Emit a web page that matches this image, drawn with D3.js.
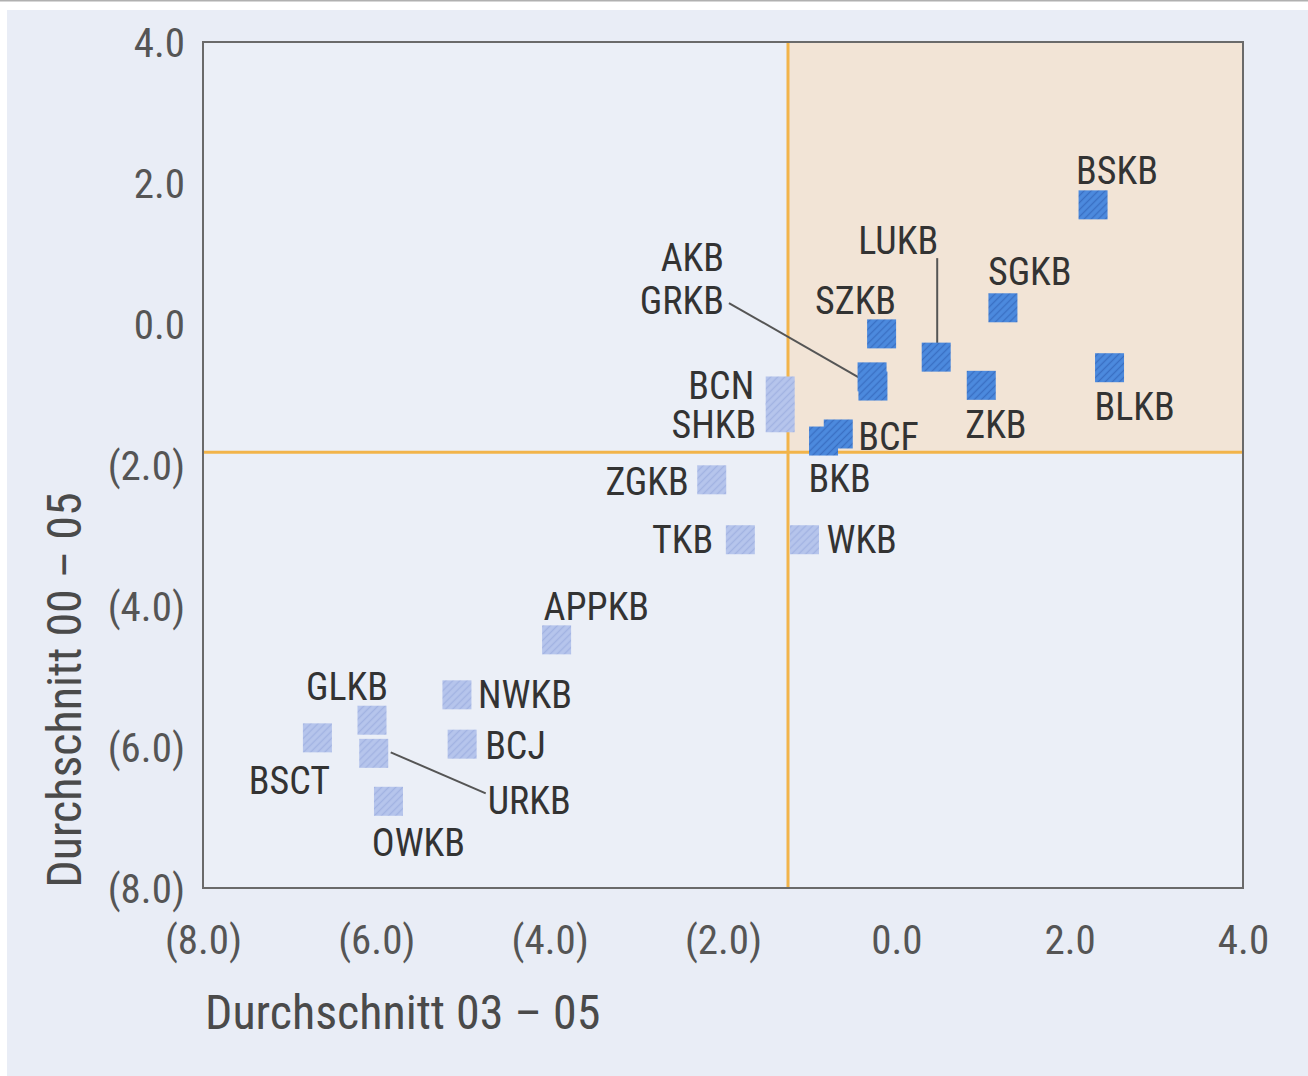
<!DOCTYPE html>
<html>
<head>
<meta charset="utf-8">
<script src="https://cdn.jsdelivr.net/npm/d3@7"></script>
<style>
  html, body { margin: 0; padding: 0; background: #ffffff; }
  svg { display: block; }
  text { font-family: "Liberation Sans Narrow", "Arial Narrow", "Roboto Condensed", sans-serif; }
</style>
</head>
<body>
<svg id="chart" width="1308" height="1076"></svg>
<script>
// ---- data ----
const banks = ["BSKB","SGKB","LUKB","SZKB","AKB","GRKB","BLKB","ZKB","BCF","BKB","BCN","SHKB","ZGKB","TKB","WKB","APPKB","NWKB","BCJ","GLKB","URKB","BSCT","OWKB"];
const avg0305 = [2.27, 1.23, 0.46, -0.17, -0.28, -0.27, 2.46, 0.98, -0.67, -0.84, -1.34, -1.34, -2.13, -1.80, -1.06, -3.92, -5.07, -5.01, -6.05, -6.03, -6.68, -5.86];
const avg0005 = [1.69, 0.23, -0.47, -0.14, -0.75, -0.88, -0.62, -0.87, -1.56, -1.66, -0.95, -1.33, -2.21, -3.06, -3.06, -4.48, -5.26, -5.96, -5.62, -6.09, -5.87, -6.77];
const refX = -1.25;
const refY = -1.82;
const xTicks = [-8, -6, -4, -2, 0, 2, 4];
const yTicks = [4, 2, 0, -2, -4, -6, -8];
const xTitle = "Durchschnitt 03 – 05";
const yTitle = "Durchschnitt 00 – 05";

// ---- layout (label placement, px relative to marker centre) ----
const labelLayout = {
  BSKB:  {dx: -17, dy: -35, a: "start"},
  SGKB:  {dx: -15, dy: -36, a: "start"},
  LUKB:  {dx: -38, dy: -117, a: "middle", lead: [1, -99, 1, -14]},
  SZKB:  {dx: -26, dy: -34, a: "middle"},
  AKB:   {dx: -148, dy: -120, a: "end"},
  GRKB:  {dx: -149, dy: -86, a: "end", lead: [-144, -83, -13, -8]},
  BLKB:  {dx: -15, dy: 39, a: "start"},
  ZKB:   {dx: -16, dy: 39, a: "start"},
  BCF:   {dx: 20, dy: 2, a: "start"},
  BKB:   {dx: -15, dy: 37, a: "start"},
  BCN:   {dx: -26, dy: -6, a: "end"},
  SHKB:  {dx: -24, dy: 7, a: "end"},
  ZGKB:  {dx: -23, dy: 2, a: "end"},
  TKB:   {dx: -27, dy: 0, a: "end"},
  WKB:   {dx: 22, dy: 0, a: "start"},
  APPKB: {dx: -13, dy: -34, a: "start"},
  NWKB:  {dx: 21, dy: -1, a: "start"},
  BCJ:   {dx: 23, dy: 1, a: "start"},
  GLKB:  {dx: -25, dy: -34, a: "middle"},
  URKB:  {dx: 114, dy: 47, a: "start", lead: [17, -1, 112, 40]},
  BSCT:  {dx: -28, dy: 42, a: "middle"},
  OWKB:  {dx: 30, dy: 41, a: "middle"}
};

const W = 1308, H = 1076;
const m = {left: 203, top: 42, right: 1243, bottom: 888};

const svg = d3.select("#chart");

// background with scan-like white margins
svg.append("rect").attr("x", 0).attr("y", 0).attr("width", W).attr("height", H).attr("fill", "#ffffff");
svg.append("rect").attr("x", 7).attr("y", 10).attr("width", W - 7).attr("height", H - 10).attr("fill", "#e9edf6");
svg.append("line").attr("x1", 0).attr("x2", W).attr("y1", 0.5).attr("y2", 0.5).attr("stroke", "#b0b0b0").attr("stroke-width", 2);

const defs = svg.append("defs");
function hatch(id, bg, fg) {
  const p = defs.append("pattern").attr("id", id).attr("patternUnits", "userSpaceOnUse")
    .attr("width", 5).attr("height", 5).attr("patternTransform", "rotate(-45)");
  p.append("rect").attr("width", 5).attr("height", 5).attr("fill", bg);
  p.append("line").attr("x1", 0).attr("x2", 5).attr("y1", 1.5).attr("y2", 1.5).attr("stroke", fg).attr("stroke-width", 1.4);
}
hatch("hatchDark", "#4c8ade", "#3a70c4");
hatch("hatchLight", "#b6c5ec", "#a2b3e2");

const x = d3.scaleLinear().domain([-8, 4]).range([m.left, m.right]);
const y = d3.scaleLinear().domain([-8, 4]).range([m.bottom, m.top]);

// plot background
svg.append("rect").attr("x", m.left).attr("y", m.top).attr("width", m.right - m.left).attr("height", m.bottom - m.top)
  .attr("fill", "#ebeff7");
// highlighted quadrant
svg.append("rect").attr("x", x(refX)).attr("y", m.top).attr("width", m.right - x(refX)).attr("height", y(refY) - m.top)
  .attr("fill", "#f2e4d6");

// reference lines
svg.append("line").attr("x1", x(refX)).attr("x2", x(refX)).attr("y1", m.top).attr("y2", m.bottom)
  .attr("stroke", "#f2b44a").attr("stroke-width", 3);
svg.append("line").attr("x1", m.left).attr("x2", m.right).attr("y1", y(refY)).attr("y2", y(refY))
  .attr("stroke", "#f2b44a").attr("stroke-width", 3);

// frame
svg.append("rect").attr("x", m.left).attr("y", m.top).attr("width", m.right - m.left).attr("height", m.bottom - m.top)
  .attr("fill", "none").attr("stroke", "#6a6a6a").attr("stroke-width", 2);

const fmt = v => v < 0 ? "(" + Math.abs(v).toFixed(1) + ")" : v.toFixed(1);

// axes (ticks hidden, labels only)
const xAxis = svg.append("g").attr("transform", `translate(0,${m.bottom})`)
  .call(d3.axisBottom(x).tickValues(xTicks).tickFormat(fmt).tickSize(0).tickPadding(66));
const yAxis = svg.append("g").attr("transform", `translate(${m.left},0)`)
  .call(d3.axisLeft(y).tickValues(yTicks).tickFormat(fmt).tickSize(0).tickPadding(18));
[xAxis, yAxis].forEach(g => {
  g.select(".domain").remove();
  g.selectAll("text").attr("font-size", 41).attr("fill", "#555").attr("font-family", null);
});
yAxis.selectAll(".tick text").attr("dy", "0.36em");
xAxis.selectAll(".tick text").attr("dy", "0");

// axis titles
svg.append("text").attr("x", 205).attr("y", 1029).attr("font-size", 48).attr("fill", "#4a4a4a").text(xTitle);
svg.append("text").attr("transform", "translate(81,690) rotate(-90)").attr("text-anchor", "middle")
  .attr("font-size", 48).attr("fill", "#4a4a4a").text(yTitle);

// points
const data = banks.map((b, i) => ({name: b, vx: avg0305[i], vy: avg0005[i]}));
const inQuad = d => d.vx > refX && d.vy > refY;
const S = 29;

// leader lines
data.forEach(d => {
  const L = labelLayout[d.name];
  if (L.lead) {
    svg.append("line")
      .attr("x1", x(d.vx) + L.lead[0]).attr("y1", y(d.vy) + L.lead[1])
      .attr("x2", x(d.vx) + L.lead[2]).attr("y2", y(d.vy) + L.lead[3])
      .attr("stroke", "#555").attr("stroke-width", 2);
  }
});

svg.append("g").selectAll("rect").data(data).join("rect")
  .attr("x", d => x(d.vx) - S / 2).attr("y", d => y(d.vy) - S / 2)
  .attr("width", S).attr("height", S)
  .attr("fill", d => inQuad(d) ? "url(#hatchDark)" : "url(#hatchLight)");

svg.append("g").selectAll("text").data(data).join("text")
  .attr("x", d => x(d.vx) + labelLayout[d.name].dx)
  .attr("y", d => y(d.vy) + labelLayout[d.name].dy)
  .attr("dy", "0.36em")
  .attr("text-anchor", d => labelLayout[d.name].a)
  .attr("font-size", 38).attr("fill", "#333")
  .text(d => d.name);
</script>
</body>
</html>
